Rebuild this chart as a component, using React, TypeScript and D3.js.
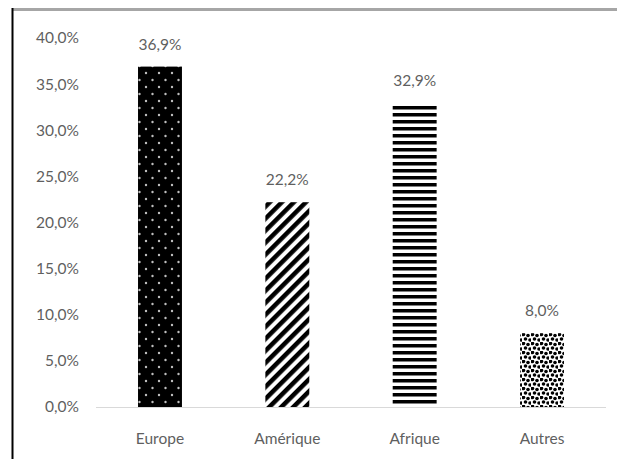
import { useEffect, useRef } from "react"
import * as d3 from "d3"

const categories = ["Europe", "Amérique", "Afrique", "Autres"]
const values = [36.9, 22.2, 32.9, 8.0]
const ticks = [0, 5, 10, 15, 20, 25, 30, 35, 40]
const patterns = ["dots", "diag", "horiz", "confetti"]

const fmt = (v: number) => v.toFixed(1).replace(".", ",") + "%"

export default function App() {
  const svgRef = useRef<SVGSVGElement>(null)

  useEffect(() => {
    if (!svgRef.current) return
    const svg = d3.select(svgRef.current)
    svg.selectAll("*").remove()

    const textColor = "#5f5f5f"
    const font = "Lato, Open Sans, sans-serif"
    const fs = 15.5

    const defs = svg.append("defs")

    // black with light dots
    const p1 = defs.append("pattern").attr("id", "dots")
      .attr("patternUnits", "userSpaceOnUse").attr("width", 13).attr("height", 14)
    p1.append("rect").attr("width", 13).attr("height", 14).attr("fill", "#000")
    p1.append("circle").attr("cx", 3).attr("cy", 3).attr("r", 1.2).attr("fill", "#c0c0c0")
    p1.append("circle").attr("cx", 9.5).attr("cy", 10).attr("r", 1.2).attr("fill", "#c0c0c0")

    // diagonal stripes
    const p2 = defs.append("pattern").attr("id", "diag")
      .attr("patternUnits", "userSpaceOnUse").attr("width", 8.5).attr("height", 8.5)
      .attr("patternTransform", "rotate(45)")
    p2.append("rect").attr("width", 8.5).attr("height", 8.5).attr("fill", "#fff")
    p2.append("rect").attr("width", 4.5).attr("height", 8.5).attr("fill", "#000")

    // horizontal lines
    const p3 = defs.append("pattern").attr("id", "horiz")
      .attr("patternUnits", "userSpaceOnUse").attr("width", 8).attr("height", 7)
    p3.append("rect").attr("width", 8).attr("height", 7).attr("fill", "#fff")
    p3.append("rect").attr("y", 1).attr("width", 8).attr("height", 3.5).attr("fill", "#000")

    // confetti
    const p4 = defs.append("pattern").attr("id", "confetti")
      .attr("patternUnits", "userSpaceOnUse").attr("width", 9).attr("height", 9)
    p4.append("rect").attr("width", 9).attr("height", 9).attr("fill", "#fff")
    ;[[1.5, 1.5], [6, 2.5], [3.5, 6], [8, 7]].forEach(([cx, cy]) => {
      p4.append("circle").attr("cx", cx).attr("cy", cy).attr("r", 1.8).attr("fill", "#000")
    })

    // frame
    svg.append("line").attr("x1", 12).attr("x2", 617).attr("y1", 9.5).attr("y2", 9.5)
      .attr("stroke", "#a6a6a6").attr("stroke-width", 3)
    svg.append("line").attr("x1", 12.5).attr("x2", 12.5).attr("y1", 8).attr("y2", 459)
      .attr("stroke", "#000").attr("stroke-width", 2)

    const x = d3.scaleBand().domain(categories).range([96, 606]).paddingInner(0.655).paddingOuter(0.33)
    const y = d3.scaleLinear().domain([0, 40]).range([407, 38])

    // y tick labels
    svg.append("g").selectAll("text").data(ticks).enter().append("text")
      .attr("x", 79).attr("y", (d) => y(d)).attr("dy", "0.35em")
      .attr("text-anchor", "end").attr("font-family", font).attr("font-size", fs)
      .attr("fill", textColor).text((d) => fmt(d))

    // bars
    svg.append("g").selectAll("rect").data(values).enter().append("rect")
      .attr("x", (_, i) => x(categories[i])!)
      .attr("width", x.bandwidth())
      .attr("y", (d) => y(d))
      .attr("height", (d) => y(0) - y(d))
      .attr("fill", (_, i) => `url(#${patterns[i]})`)

    // baseline
    svg.append("line").attr("x1", 96).attr("x2", 606).attr("y1", y(0) + 0.5).attr("y2", y(0) + 0.5)
      .attr("stroke", "#d9d9d9").attr("stroke-width", 1)

    // value labels
    svg.append("g").selectAll("text").data(values).enter().append("text")
      .attr("x", (_, i) => x(categories[i])! + x.bandwidth() / 2)
      .attr("y", (d) => y(d) - 17)
      .attr("text-anchor", "middle").attr("font-family", font).attr("font-size", fs)
      .attr("fill", textColor).text((d) => fmt(d))

    // category labels
    svg.append("g").selectAll("text").data(categories).enter().append("text")
      .attr("x", (d) => x(d)! + x.bandwidth() / 2)
      .attr("y", 444)
      .attr("text-anchor", "middle").attr("font-family", font).attr("font-size", fs)
      .attr("fill", textColor).text((d) => d)
  }, [])

  return (
    <svg
      ref={svgRef}
      width={617}
      height={459}
      style={{ position: "absolute", left: 0, top: 0, background: "#fff" }}
    />
  )
}
